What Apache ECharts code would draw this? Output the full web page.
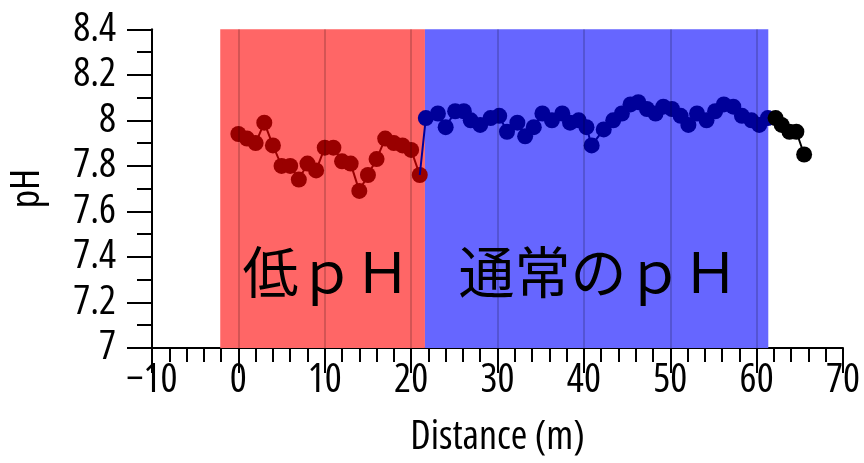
<!DOCTYPE html>
<html>
<head>
<meta charset="utf-8">
<script src="https://cdn.jsdelivr.net/npm/echarts@6/dist/echarts.min.js"></script>
<style>
html,body{margin:0;padding:0;background:#fff;}
#chart{width:864px;height:463px;}
</style>
</head>
<body>
<div id="chart"></div>
<script>
// ---- data ----
const redX = [0,1,2,3,4,5,6,7,8,9,10,11,12,13,14,15,16,17,18,19,20,21];
const redY = [7.94,7.92,7.90,7.99,7.89,7.80,7.80,7.74,7.81,7.78,7.88,7.88,7.82,7.81,7.69,7.76,7.83,7.92,7.90,7.89,7.87,7.76];

const blueX = [21.7,23.1,24.0,25.1,26.1,26.9,28.0,29.2,30.2,31.1,32.3,33.2,34.2,35.2,36.3,37.5,38.4,39.4,40.3,40.9,42.3,43.4,44.4,45.4,46.3,47.3,48.3,49.2,50.2,51.2,52.1,53.1,54.2,55.2,56.2,57.3,58.3,59.4,60.3,61.3];
const blueY = [8.01,8.03,7.97,8.04,8.04,8.00,7.98,8.01,8.02,7.95,7.99,7.93,7.97,8.03,8.00,8.03,7.99,8.00,7.97,7.89,7.96,8.00,8.03,8.07,8.08,8.05,8.03,8.06,8.05,8.02,7.98,8.03,8.00,8.04,8.07,8.06,8.02,8.00,7.98,8.01];

const blackX = [62.2,62.9,63.8,64.6,65.5];
const blackY = [8.01,7.98,7.95,7.95,7.85];

const xTicks = [-10,0,10,20,30,40,50,60,70];
const yTicks = [7,7.2,7.4,7.6,7.8,8,8.2,8.4];

const regionNames = ['低ｐＨ','通常のｐＨ'];
const regionStart = [-2.1, 21.6];
const regionEnd   = [21.6, 61.35];
const regionColors = ['#ff6666','#6666ff'];

// ---- build ----
const pts = (xs, ys) => xs.map((x,i)=>[x, ys[i]]);
const redData = pts(redX, redY);
const blueData = [{value:[redX[redX.length-1], redY[redY.length-1]], symbol:'none'}].concat(pts(blueX, blueY));
const blackData = [{value:[blueX[blueX.length-1], blueY[blueY.length-1]], symbol:'none'}].concat(pts(blackX, blackY));

const yMin = yTicks[0], yMax = yTicks[yTicks.length-1];
const areaTop = yMax + 0.01;

const markAreaData = regionNames.map((n,i)=>[
  {xAxis: regionStart[i], yAxis: yMin, name: n,
   itemStyle:{color: regionColors[i], opacity:1},
   label:{show:true, position:'inside', offset:[i===0?4:2, 83], color:'#000',
          fontSize:56, fontFamily:'"Noto Sans CJK JP", sans-serif', formatter: n}},
  {xAxis: regionEnd[i], yAxis: areaTop}
]);

const gridLineData = xTicks
  .filter(t => t > regionStart[0] && t < regionEnd[regionEnd.length-1])
  .map(t => [{coord:[t, yMin]}, {coord:[t, yMax]}]);

const axisFont = {fontSize:40, fontStyle:'condensed', fontFamily:'"Open Sans", sans-serif', color:'#000'};

const option = {
  animation: false,
  backgroundColor: '#fff',
  grid: {left:151, right:21, top:29.3, bottom:112.7, containLabel:false},
  xAxis: {
    type:'value', min:xTicks[0], max:xTicks[xTicks.length-1], interval:10,
    name:'Distance (m)', nameLocation:'middle', nameGap:70,
    nameTextStyle: axisFont,
    axisLine:{onZero:false, lineStyle:{color:'#000', width:2}},
    axisTick:{show:true, inside:false, length:25, lineStyle:{color:'#000', width:2}},
    minorTick:{show:true, splitNumber:5, length:14, lineStyle:{color:'#000', width:2}},
    splitLine:{show:false},
    axisLabel:Object.assign({margin:13,
      formatter: v => String(v).replace('-', '\u2212')}, axisFont)
  },
  yAxis: {
    type:'value', min:yMin, max:yMax, interval:0.2,
    name:'pH', nameLocation:'middle', nameGap:104, nameRotate:90,
    nameTextStyle: axisFont,
    axisLine:{show:true, onZero:false, lineStyle:{color:'#000', width:2}},
    axisTick:{show:true, inside:false, length:25, lineStyle:{color:'#000', width:2}},
    minorTick:{show:true, splitNumber:2, length:15, lineStyle:{color:'#000', width:2}},
    splitLine:{show:false},
    axisLabel:Object.assign({margin:36,
      formatter: v => String(Math.round(v*10)/10)}, axisFont)
  },
  series: [
    {
      type:'line', name:'low', data:redData, clip:false, z:3,
      symbol:'circle', symbolSize:16,
      itemStyle:{color:'#990000'}, lineStyle:{color:'#990000', width:2},
      markArea:{silent:true, data:markAreaData},
      markLine:{silent:true, symbol:'none', label:{show:false},
        lineStyle:{color:'rgba(0,0,0,0.17)', width:2, type:'solid'},
        data:gridLineData}
    },
    {
      type:'line', name:'normal', data:blueData, clip:false, z:4,
      symbol:'circle', symbolSize:16,
      itemStyle:{color:'#000099'}, lineStyle:{color:'#000099', width:2}
    },
    {
      type:'line', name:'end', data:blackData, clip:false, z:5,
      symbol:'circle', symbolSize:16,
      itemStyle:{color:'#000'}, lineStyle:{color:'#000', width:2}
    }
  ]
};

const chart = echarts.init(document.getElementById('chart'), null, {renderer:'canvas'});
chart.setOption(option);
</script>
</body>
</html>
